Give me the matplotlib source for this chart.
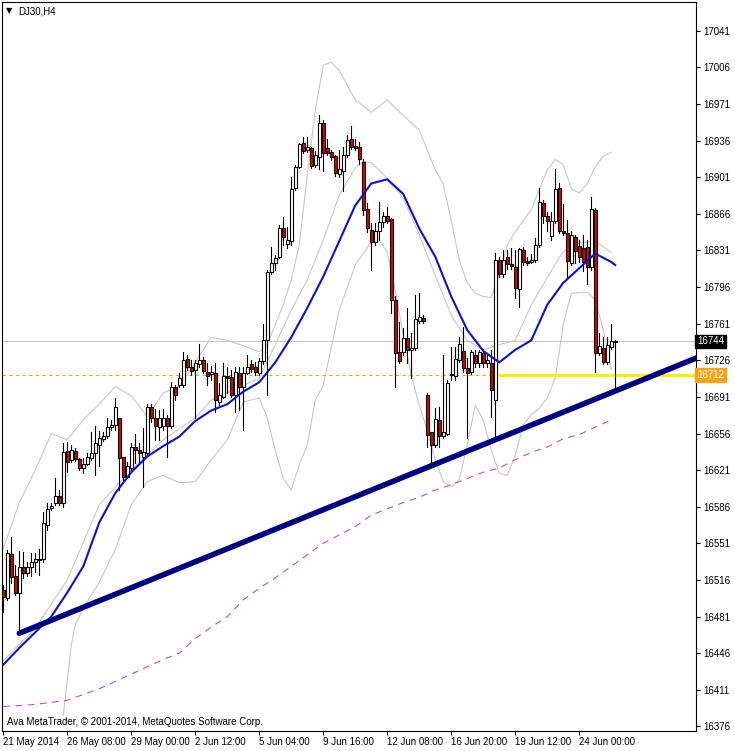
import matplotlib
matplotlib.use("Agg")
import matplotlib.pyplot as plt
from matplotlib.patches import Rectangle
from matplotlib.transforms import blended_transform_factory

plt.rcParams['font.family'] = ['Liberation Sans', 'DejaVu Sans']

# H4 bars, DJ30 (open, high, low, close)
opens = [16506, 16499, 16541, 16520, 16504, 16528, 16523, 16528, 16533, 16535,
         16536, 16569, 16585, 16590, 16596, 16590, 16639, 16631, 16639, 16632,
         16623, 16627, 16633, 16637, 16645, 16651, 16654, 16662, 16664, 16671,
         16634, 16614, 16623, 16643, 16640, 16634, 16637, 16681, 16671, 16662,
         16663, 16671, 16663, 16700, 16702, 16702, 16727, 16720, 16717, 16722,
         16726, 16715, 16713, 16714, 16686, 16691, 16711, 16710, 16693, 16714,
         16700, 16714, 16722, 16720, 16714, 16725, 16745, 16810, 16819, 16825,
         16852, 16837, 16840, 16891, 16911, 16934, 16927, 16929, 16913, 16920,
         16953, 16929, 16925, 16921, 16904, 16907, 16922, 16938, 16931, 16930,
         16916, 16871, 16851, 16839, 16850, 16858, 16864, 16861, 16784, 16734,
         16734, 16747, 16736, 16738, 16764, 16766, 16693, 16657, 16645, 16669,
         16654, 16656, 16712, 16711, 16726, 16735, 16719, 16715, 16731, 16723,
         16733, 16723, 16723, 16688, 16822, 16808, 16825, 16818, 16815, 16794,
         16831, 16821, 16820, 16822, 16836, 16876, 16864, 16845, 16859, 16891,
         16850, 16848, 16819, 16844, 16835, 16833, 16834, 16815, 16870, 16733,
         16738, 16724, 16739, 16743]
highs = [16511, 16545, 16557, 16530, 16544, 16543, 16533, 16542, 16542, 16546,
         16581, 16590, 16590, 16613, 16602, 16647, 16648, 16645, 16642, 16633,
         16633, 16637, 16657, 16663, 16658, 16657, 16671, 16669, 16690, 16671,
         16634, 16629, 16647, 16656, 16647, 16661, 16684, 16684, 16679, 16678,
         16679, 16674, 16705, 16702, 16714, 16734, 16731, 16726, 16726, 16742,
         16729, 16723, 16721, 16723, 16704, 16723, 16720, 16717, 16720, 16720,
         16720, 16731, 16726, 16724, 16728, 16761, 16812, 16834, 16827, 16855,
         16863, 16853, 16901, 16913, 16934, 16939, 16939, 16930, 16926, 16960,
         16956, 16938, 16927, 16922, 16927, 16930, 16941, 16950, 16938, 16935,
         16918, 16876, 16857, 16857, 16877, 16868, 16873, 16862, 16787, 16763,
         16757, 16776, 16752, 16788, 16790, 16769, 16695, 16657, 16680, 16681,
         16731, 16707, 16739, 16739, 16748, 16758, 16728, 16736, 16736, 16736,
         16737, 16731, 16736, 16829, 16825, 16831, 16831, 16833, 16831, 16833,
         16834, 16825, 16828, 16843, 16891, 16879, 16868, 16868, 16909, 16895,
         16875, 16860, 16850, 16846, 16841, 16846, 16841, 16882, 16872, 16752,
         16748, 16748, 16761, 16745]
lows = [16485, 16497, 16513, 16502, 16465, 16518, 16520, 16520, 16524, 16521,
        16533, 16564, 16583, 16588, 16588, 16586, 16619, 16629, 16630, 16621,
        16618, 16626, 16631, 16616, 16625, 16649, 16652, 16659, 16659, 16602,
        16612, 16613, 16621, 16628, 16629, 16605, 16635, 16667, 16650, 16650,
        16659, 16634, 16661, 16688, 16700, 16700, 16717, 16712, 16671, 16720,
        16714, 16702, 16707, 16677, 16683, 16690, 16695, 16691, 16677, 16678,
        16659, 16713, 16715, 16712, 16712, 16722, 16693, 16808, 16812, 16824,
        16836, 16833, 16836, 16889, 16910, 16924, 16925, 16910, 16911, 16909,
        16907, 16922, 16917, 16902, 16901, 16888, 16920, 16928, 16927, 16914,
        16865, 16849, 16812, 16836, 16841, 16853, 16857, 16771, 16700, 16723,
        16731, 16723, 16709, 16736, 16762, 16762, 16643, 16624, 16643, 16643,
        16652, 16655, 16707, 16707, 16724, 16715, 16652, 16713, 16720, 16720,
        16720, 16720, 16672, 16650, 16806, 16806, 16813, 16813, 16786, 16777,
        16817, 16817, 16819, 16820, 16834, 16857, 16850, 16841, 16857, 16848,
        16846, 16805, 16817, 16819, 16820, 16811, 16799, 16812, 16715, 16731,
        16722, 16722, 16737, 16698]
closes = [16500, 16542, 16519, 16504, 16528, 16523, 16528, 16533, 16536, 16536,
          16570, 16584, 16587, 16596, 16590, 16638, 16629, 16640, 16632, 16623,
          16627, 16634, 16637, 16647, 16652, 16654, 16662, 16664, 16681, 16633,
          16614, 16625, 16643, 16640, 16637, 16638, 16681, 16671, 16663, 16671,
          16671, 16663, 16700, 16693, 16709, 16726, 16720, 16716, 16723, 16726,
          16716, 16711, 16715, 16688, 16693, 16711, 16709, 16693, 16715, 16700,
          16714, 16720, 16718, 16715, 16725, 16745, 16810, 16819, 16824, 16852,
          16844, 16841, 16890, 16911, 16933, 16926, 16930, 16912, 16922, 16953,
          16924, 16924, 16920, 16905, 16909, 16922, 16937, 16930, 16929, 16918,
          16870, 16852, 16839, 16850, 16858, 16864, 16859, 16784, 16733, 16725,
          16747, 16736, 16738, 16765, 16767, 16764, 16655, 16645, 16670, 16654,
          16657, 16704, 16713, 16727, 16742, 16719, 16714, 16734, 16723, 16734,
          16723, 16726, 16698, 16822, 16808, 16822, 16818, 16816, 16795, 16832,
          16820, 16819, 16822, 16836, 16877, 16864, 16859, 16859, 16890, 16850,
          16848, 16821, 16846, 16830, 16825, 16820, 16815, 16871, 16733, 16740,
          16724, 16741, 16744, 16744]

# indicator readings (bar index, price)
ma_bars = list(range(0, 153, 4)) + [153]
ma_vals = [16435, 16451, 16466, 16481, 16504, 16529, 16571, 16599, 16619, 16634,
           16644, 16653, 16668, 16678, 16684, 16696, 16705, 16724, 16748, 16776,
           16806, 16840, 16874, 16895, 16899, 16885, 16852, 16825, 16787, 16755,
           16735, 16724, 16736, 16745, 16779, 16800, 16814, 16828, 16820, 16817]

slow_bars = [0, 8, 16, 24, 32, 40, 44, 48, 52, 56, 60, 64, 68, 72, 76, 80, 84, 88,
             92, 96, 100, 104, 108, 112, 116, 120, 124, 128, 132, 136, 140, 144,
             148, 152]
slow_vals = [16395, 16397, 16401, 16412, 16426, 16440, 16446, 16460, 16471, 16481,
             16497, 16508, 16518, 16529, 16540, 16551, 16559, 16567, 16578, 16584,
             16590, 16595, 16602, 16607, 16613, 16619, 16623, 16631, 16638, 16643,
             16651, 16655, 16662, 16669]

up_bars = [0, 4, 8, 12, 16, 20, 24, 28, 32, 36, 40, 44, 48, 52, 56, 60, 64, 66, 68,
           70, 72, 74, 76, 78, 80, 82, 84, 88, 92, 96, 100, 104, 108, 110, 112, 114,
           116, 118, 120, 122, 124, 126, 128, 132, 136, 138, 140, 142, 144, 146,
           148, 150, 152]
up_vals = [16546, 16590, 16621, 16656, 16650, 16669, 16684, 16701, 16692, 16672,
           16695, 16701, 16724, 16748, 16745, 16740, 16734, 16741, 16760, 16779,
           16803, 16836, 16903, 16965, 17008, 17011, 17003, 16975, 16963, 16975,
           16960, 16946, 16908, 16894, 16860, 16822, 16800, 16790, 16787, 16786,
           16808, 16836, 16849, 16870, 16908, 16918, 16913, 16890, 16886, 16895,
           16911, 16921, 16925]

mid_bars = [0, 8, 16, 24, 32, 40, 48, 52, 60, 64, 68, 72, 76, 80, 84, 88, 90, 92,
            96, 100, 104, 108, 112, 116, 120, 124, 128, 132, 136, 140, 144, 148, 152]
mid_vals = [16439, 16470, 16516, 16588, 16621, 16650, 16671, 16688, 16702, 16709,
            16741, 16774, 16803, 16841, 16884, 16910, 16916, 16915, 16900, 16881,
            16846, 16807, 16769, 16745, 16736, 16741, 16745, 16779, 16805, 16830,
            16838, 16840, 16829]

lo_bars = [15, 16, 17, 18, 20, 24, 28, 32, 36, 40, 44, 48, 52, 56, 60, 64, 66, 68,
           70, 72, 74, 76, 78, 80, 84, 88, 92, 94, 96, 98, 100, 102, 104, 106, 108,
           110, 112, 114, 116, 118, 120, 122, 124, 126, 128, 130, 132, 134, 136,
           138, 140, 142, 146, 148, 150, 152]
lo_vals = [16387, 16420, 16454, 16473, 16489, 16514, 16545, 16588, 16610, 16616,
           16609, 16610, 16631, 16650, 16686, 16690, 16671, 16640, 16613, 16602,
           16626, 16645, 16688, 16702, 16774, 16817, 16839, 16841, 16829, 16793,
           16750, 16712, 16683, 16659, 16631, 16610, 16605, 16612, 16645, 16683,
           16669, 16640, 16618, 16616, 16635, 16664, 16674, 16680, 16690, 16709,
           16760, 16790, 16791, 16784, 16755, 16717]

trend_bars = [4, 123]
trend_prices = [16465, 16650]
bid = 16744
level = 16712
level_from = 123

tick_bars = [0, 16, 32, 48, 64, 80, 96, 112, 128, 144]
tick_labels = ['21 May 2014', '26 May 08:00', '29 May 00:00', '2 Jun 12:00',
               '5 Jun 04:00', '9 Jun 16:00', '12 Jun 08:00', '16 Jun 20:00',
               '19 Jun 12:00', '24 Jun 00:00']
price_ticks = list(range(16376, 17042, 35))

fig = plt.figure(figsize=(7.35, 7.51), dpi=100)
ax = fig.add_axes([2 / 735, 20 / 751, 694 / 735, 729 / 751])
ax.set_xlim(-0.33, 173.2)
ax.set_ylim(16371.6, 17068.5)

# bollinger + moving averages
ax.plot(up_bars, up_vals, color='#c8c8c8', lw=0.8, zorder=1)
ax.plot(mid_bars, mid_vals, color='#c8c8c8', lw=0.8, zorder=1)
ax.plot(lo_bars, lo_vals, color='#c8c8c8', lw=0.8, zorder=1)
ax.plot(slow_bars, slow_vals, color='#b64fd8', lw=0.8, ls=(0, (6, 5)), zorder=1)

ax.axhline(bid, color='#c8c8c8', lw=0.8, zorder=1)
ax.axhline(level, color='#f0a030', lw=0.8, ls=(0, (3, 3)), zorder=1)
ax.plot([level_from, 174], [level, level], color='#ffee00', lw=2.2, zorder=2,
        solid_capstyle='butt')

# candles
for i in range(len(opens)):
    o, h, l, c = opens[i], highs[i], lows[i], closes[i]
    ax.plot([i, i], [l, h], color='black', lw=0.8, zorder=3)
    face = 'white' if c >= o else '#e00000'
    ax.add_patch(Rectangle((i - 0.36, min(o, c)), 0.72, abs(c - o),
                           facecolor=face, edgecolor='black', lw=0.8, zorder=4))

ax.plot(ma_bars, ma_vals, color='#0c12cc', lw=1.5, zorder=5)

# trend line
slope = (trend_prices[1] - trend_prices[0]) / (trend_bars[1] - trend_bars[0])
x_end = 175
ax.plot([trend_bars[0], x_end],
        [trend_prices[0], trend_prices[0] + slope * (x_end - trend_bars[0])],
        color='#000080', lw=4, solid_capstyle='round', zorder=6)

# axes styling
for s in ax.spines.values():
    s.set_color('black')
    s.set_linewidth(0.8)
ax.yaxis.tick_right()
ax.set_yticks(price_ticks)
ax.set_yticklabels([str(p) for p in price_ticks])
ax.set_xticks(tick_bars)
ax.set_xticklabels(tick_labels)
ax.tick_params(axis='y', direction='out', length=3, pad=2, labelsize=7)
ax.tick_params(axis='x', direction='out', length=3, pad=1.5, labelsize=7)
for t in ax.get_xticklabels():
    t.set_horizontalalignment('left')

tr = blended_transform_factory(ax.transAxes, ax.transData)
ax.text(1.0015, bid, str(bid), transform=tr, color='white', fontsize=7, va='center',
        ha='left', zorder=10,
        bbox=dict(boxstyle='square,pad=0.18', fc='black', ec='black'))
ax.text(1.0015, level, str(level), transform=tr, color='white', fontsize=7,
        va='center', ha='left', zorder=10,
        bbox=dict(boxstyle='square,pad=0.18', fc='#f5a31a', ec='#f5a31a'))

ax.text(4 / 694, 1 - 9 / 729, '\u25bc', transform=ax.transAxes, fontsize=6,
        va='center', ha='left', family=['DejaVu Sans'])
ax.text(16 / 694, 1 - 9 / 729, 'DJ30,H4', transform=ax.transAxes, fontsize=7,
        va='center', ha='left')
ax.text(5 / 694, 9 / 729, 'Ava MetaTrader, \u00a9 2001-2014, MetaQuotes Software Corp.',
        transform=ax.transAxes, fontsize=7, va='center', ha='left')

fig.savefig('out.png', dpi=100)
